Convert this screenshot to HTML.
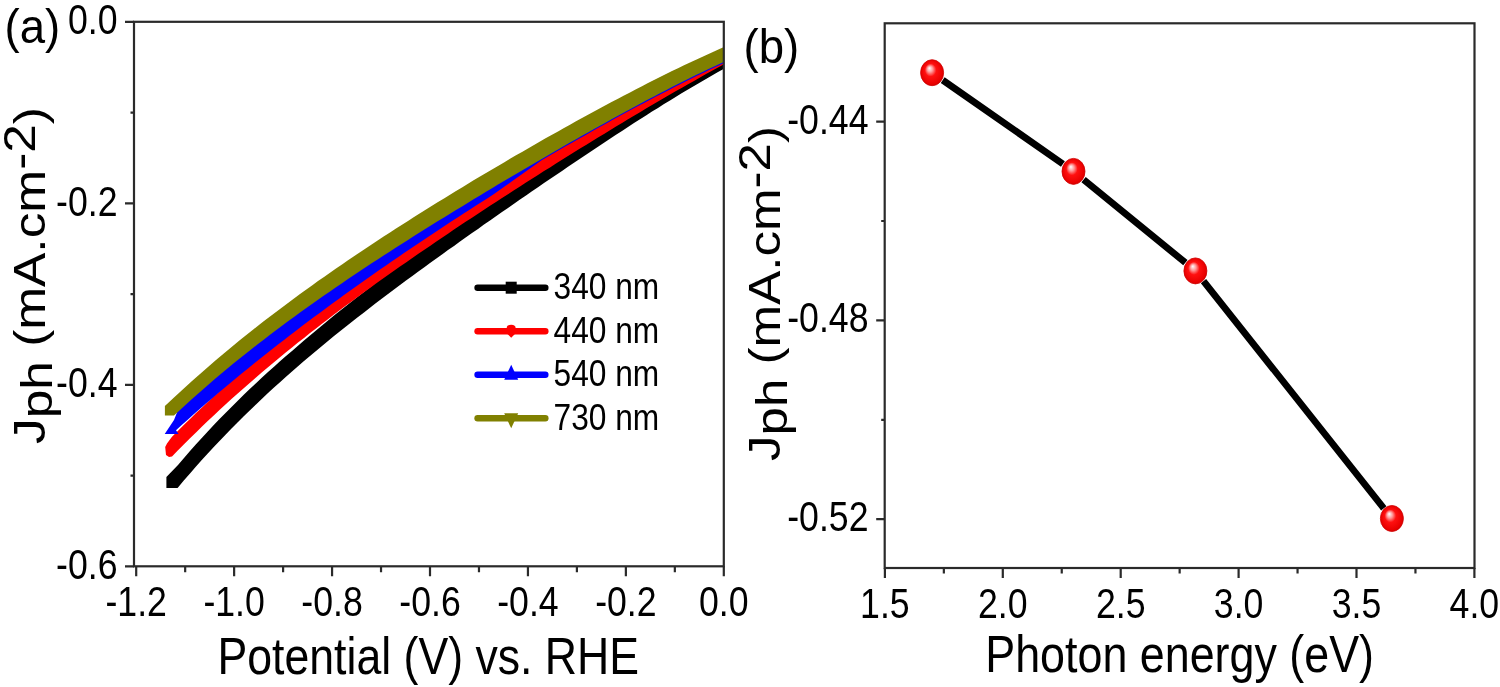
<!DOCTYPE html>
<html><head><meta charset="utf-8"><style>
html,body{margin:0;padding:0;background:#fff;}
svg{display:block;will-change:transform;}
text{font-family:"Liberation Sans", sans-serif;fill:#000;}
</style></head><body>
<svg width="1500" height="687" viewBox="0 0 1500 687">
<rect width="1500" height="687" fill="#fff"/>
<defs><clipPath id="clipL"><rect x="134" y="21.8" width="589.8" height="544.5"/></clipPath>
<radialGradient id="ball" cx="0.5" cy="0.5" r="0.55" fx="0.38" fy="0.32"><stop offset="0" stop-color="#ffffff"/><stop offset="0.22" stop-color="#ff9a9a"/><stop offset="0.45" stop-color="#ff1010"/><stop offset="0.85" stop-color="#e80000"/><stop offset="1" stop-color="#c00000"/></radialGradient></defs>
<g clip-path="url(#clipL)">
<path d="M166.4,477.0 L178.0,464.9 L184.0,457.9 L190.0,451.0 L196.0,444.3 L202.0,437.7 L208.0,431.2 L214.0,424.8 L220.0,418.6 L226.0,412.4 L232.0,406.4 L238.0,400.4 L244.0,394.6 L250.0,388.8 L256.0,383.2 L262.0,377.6 L268.0,372.1 L274.0,366.7 L280.0,361.3 L286.0,356.1 L292.0,350.9 L298.0,345.7 L304.0,340.6 L310.0,335.5 L316.0,330.4 L322.0,325.4 L328.0,320.5 L334.0,315.6 L340.0,310.8 L346.0,306.0 L352.0,301.2 L358.0,296.5 L364.0,291.9 L370.0,287.2 L376.0,282.6 L382.0,278.1 L388.0,273.6 L394.0,269.1 L400.0,264.6 L406.0,260.1 L412.0,255.7 L418.0,251.3 L424.0,246.9 L430.0,242.6 L436.0,238.2 L442.0,233.9 L448.0,229.6 L454.0,225.4 L460.0,221.1 L466.0,216.8 L472.0,212.6 L478.0,208.4 L484.0,204.1 L490.0,199.9 L496.0,195.8 L502.0,191.6 L508.0,187.4 L514.0,183.3 L520.0,179.1 L526.0,175.0 L532.0,170.8 L538.0,166.7 L544.0,162.6 L550.0,158.5 L556.0,154.4 L562.0,150.4 L568.0,146.3 L574.0,142.3 L580.0,138.2 L586.0,134.2 L592.0,130.2 L598.0,126.2 L604.0,122.2 L610.0,118.3 L616.0,114.3 L622.0,110.4 L628.0,106.5 L634.0,102.6 L640.0,98.8 L646.0,94.9 L652.0,91.1 L658.0,87.4 L664.0,83.6 L670.0,79.9 L676.0,76.2 L682.0,72.6 L688.0,69.0 L694.0,65.4 L700.0,61.9 L706.0,58.4 L712.0,55.3 L718.0,52.7 L724.0,50.0 L730.0,47.4 L730.0,65.4 L724.0,68.7 L718.0,72.1 L712.0,75.4 L706.0,78.9 L700.0,82.4 L694.0,85.9 L688.0,89.5 L682.0,93.1 L676.0,96.7 L670.0,100.4 L664.0,104.1 L658.0,107.9 L652.0,111.6 L646.0,115.4 L640.0,119.3 L634.0,123.1 L628.0,127.0 L622.0,130.9 L616.0,134.8 L610.0,138.8 L604.0,142.7 L598.0,146.7 L592.0,150.7 L586.0,154.7 L580.0,158.7 L574.0,162.8 L568.0,166.8 L562.0,170.9 L556.0,174.9 L550.0,179.0 L544.0,183.1 L538.0,187.2 L532.0,191.3 L526.0,195.5 L520.0,199.6 L514.0,203.8 L508.0,207.9 L502.0,212.1 L496.0,216.3 L490.0,220.4 L484.0,224.6 L478.0,228.9 L472.0,233.1 L466.0,237.3 L460.0,241.6 L454.0,245.9 L448.0,250.1 L442.0,254.4 L436.0,258.7 L430.0,263.1 L424.0,267.4 L418.0,271.8 L412.0,276.2 L406.0,280.6 L400.0,285.1 L394.0,289.6 L388.0,294.1 L382.0,298.6 L376.0,303.1 L370.0,307.7 L364.0,312.4 L358.0,317.0 L352.0,321.7 L346.0,326.5 L340.0,331.3 L334.0,336.1 L328.0,341.0 L322.0,345.9 L316.0,350.9 L310.0,356.0 L304.0,361.1 L298.0,366.3 L292.0,371.5 L286.0,376.8 L280.0,382.2 L274.0,387.6 L268.0,393.1 L262.0,398.7 L256.0,404.4 L250.0,410.2 L244.0,416.0 L238.0,422.0 L232.0,428.0 L226.0,434.2 L220.0,440.4 L214.0,446.8 L208.0,453.2 L202.0,459.8 L196.0,466.5 L190.0,473.4 L184.0,480.3 L178.0,487.4 L177.5,488.1 L166.4,488.1 Z" fill="#000000"/>
<path d="M165.2,447.0 L167.0,443.5 L172.0,436.8 L178.0,430.7 L184.0,424.8 L190.0,418.9 L196.0,413.1 L202.0,407.4 L208.0,401.8 L214.0,396.2 L220.0,390.7 L226.0,385.3 L232.0,380.0 L238.0,374.7 L244.0,369.5 L250.0,364.3 L256.0,359.2 L262.0,354.2 L268.0,349.2 L274.0,344.3 L280.0,339.4 L286.0,334.6 L292.0,329.8 L298.0,325.1 L304.0,320.4 L310.0,315.6 L316.0,311.0 L322.0,306.3 L328.0,301.7 L334.0,297.1 L340.0,292.6 L346.0,288.1 L352.0,283.7 L358.0,279.2 L364.0,274.8 L370.0,270.5 L376.0,266.1 L382.0,261.8 L388.0,257.6 L394.0,253.3 L400.0,249.1 L406.0,244.9 L412.0,240.7 L418.0,236.6 L424.0,232.5 L430.0,228.4 L436.0,224.3 L442.0,220.2 L448.0,216.2 L454.0,212.1 L460.0,208.1 L466.0,204.1 L472.0,200.2 L478.0,196.2 L484.0,192.3 L490.0,188.3 L496.0,184.4 L502.0,180.5 L508.0,176.7 L514.0,172.8 L520.0,168.9 L526.0,165.1 L532.0,161.3 L538.0,157.4 L544.0,153.6 L550.0,149.9 L556.0,146.1 L562.0,142.3 L568.0,138.6 L574.0,134.8 L580.0,131.1 L586.0,127.4 L592.0,123.7 L598.0,120.0 L604.0,116.4 L610.0,112.7 L616.0,109.1 L622.0,105.5 L628.0,101.8 L634.0,98.3 L640.0,94.7 L646.0,91.1 L652.0,87.6 L658.0,84.1 L664.0,80.6 L670.0,77.1 L676.0,73.6 L682.0,70.2 L688.0,66.8 L694.0,63.6 L700.0,60.8 L706.0,58.1 L712.0,55.3 L718.0,52.7 L724.0,50.0 L730.0,47.4 L730.0,61.0 L724.0,64.2 L718.0,67.5 L712.0,70.8 L706.0,74.1 L700.0,77.5 L694.0,80.9 L688.0,84.3 L682.0,87.7 L676.0,91.1 L670.0,94.6 L664.0,98.1 L658.0,101.6 L652.0,105.1 L646.0,108.6 L640.0,112.2 L634.0,115.8 L628.0,119.3 L622.0,123.0 L616.0,126.6 L610.0,130.2 L604.0,133.9 L598.0,137.5 L592.0,141.2 L586.0,144.9 L580.0,148.6 L574.0,152.3 L568.0,156.1 L562.0,159.8 L556.0,163.6 L550.0,167.4 L544.0,171.1 L538.0,174.9 L532.0,178.8 L526.0,182.6 L520.0,186.4 L514.0,190.3 L508.0,194.2 L502.0,198.0 L496.0,201.9 L490.0,205.8 L484.0,209.8 L478.0,213.7 L472.0,217.7 L466.0,221.6 L460.0,225.6 L454.0,229.6 L448.0,233.7 L442.0,237.7 L436.0,241.8 L430.0,245.9 L424.0,250.0 L418.0,254.1 L412.0,258.2 L406.0,262.4 L400.0,266.6 L394.0,270.8 L388.0,275.1 L382.0,279.3 L376.0,283.6 L370.0,288.0 L364.0,292.3 L358.0,296.7 L352.0,301.2 L346.0,305.6 L340.0,310.1 L334.0,314.6 L328.0,319.2 L322.0,323.8 L316.0,328.5 L310.0,333.1 L304.0,337.9 L298.0,342.6 L292.0,347.5 L286.0,352.3 L280.0,357.3 L274.0,362.2 L268.0,367.3 L262.0,372.3 L256.0,377.5 L250.0,382.7 L244.0,387.9 L238.0,393.2 L232.0,398.6 L226.0,404.1 L220.0,409.6 L214.0,415.2 L208.0,420.8 L202.0,426.5 L196.0,432.4 L190.0,438.2 L184.0,444.2 L178.0,450.3 L172.0,456.4 L169.0,457.0 L166.0,455.0 Z" fill="#ff0000"/>
<path d="M164.7,434.0 L174.0,420.0 L182.0,400.1 L188.0,394.6 L194.0,389.2 L200.0,383.9 L206.0,378.7 L212.0,373.5 L218.0,368.4 L224.0,363.4 L230.0,358.4 L236.0,353.5 L242.0,348.6 L248.0,343.8 L254.0,339.1 L260.0,334.4 L266.0,329.8 L272.0,325.3 L278.0,320.7 L284.0,316.3 L290.0,311.8 L296.0,307.5 L302.0,303.1 L308.0,298.8 L314.0,294.6 L320.0,290.4 L326.0,286.2 L332.0,282.0 L338.0,277.9 L344.0,273.8 L350.0,269.8 L356.0,265.7 L362.0,261.7 L368.0,257.8 L374.0,253.8 L380.0,249.9 L386.0,246.0 L392.0,242.1 L398.0,238.3 L404.0,234.5 L410.0,230.7 L416.0,226.9 L422.0,223.1 L428.0,219.3 L434.0,215.6 L440.0,211.9 L446.0,208.2 L452.0,204.5 L458.0,200.8 L464.0,197.1 L470.0,193.5 L476.0,189.9 L482.0,186.2 L488.0,182.6 L494.0,179.0 L500.0,175.4 L506.0,171.9 L512.0,168.3 L518.0,164.8 L524.0,161.2 L530.0,157.7 L536.0,154.2 L542.0,150.7 L548.0,147.2 L554.0,143.8 L560.0,140.3 L566.0,136.9 L572.0,133.5 L578.0,130.0 L584.0,126.7 L590.0,123.3 L596.0,119.9 L602.0,116.6 L608.0,113.2 L614.0,109.9 L620.0,106.6 L626.0,103.4 L632.0,100.1 L638.0,96.9 L644.0,93.7 L650.0,90.5 L656.0,87.4 L662.0,84.3 L668.0,81.2 L674.0,78.1 L680.0,75.1 L686.0,72.0 L692.0,69.1 L698.0,66.1 L704.0,63.2 L710.0,60.4 L716.0,57.5 L722.0,54.7 L728.0,52.0 L734.0,49.3 L734.0,58.0 L728.0,60.9 L722.0,63.9 L716.0,66.7 L710.0,69.6 L704.0,72.4 L698.0,75.3 L692.0,78.3 L686.0,81.2 L680.0,84.3 L674.0,87.3 L668.0,90.4 L662.0,93.5 L656.0,96.6 L650.0,99.7 L644.0,102.9 L638.0,106.1 L632.0,109.3 L626.0,112.6 L620.0,115.8 L614.0,119.1 L608.0,122.4 L602.0,125.8 L596.0,129.1 L590.0,132.5 L584.0,135.9 L578.0,139.2 L572.0,142.7 L566.0,146.1 L560.0,149.5 L554.0,153.0 L548.0,156.4 L542.0,160.1 L536.0,164.3 L530.0,168.5 L524.0,172.8 L518.0,177.0 L512.0,181.3 L506.0,185.6 L500.0,189.8 L494.0,194.1 L488.0,197.9 L482.0,201.7 L476.0,205.6 L470.0,209.4 L464.0,213.3 L458.0,217.2 L452.0,221.1 L446.0,225.0 L440.0,229.0 L434.0,233.0 L428.0,237.0 L422.0,241.0 L416.0,245.0 L410.0,249.1 L404.0,253.1 L398.0,257.2 L392.0,261.3 L386.0,265.5 L380.0,269.6 L374.0,273.8 L368.0,278.0 L362.0,282.3 L356.0,286.5 L350.0,290.8 L344.0,295.1 L338.0,299.5 L332.0,303.8 L326.0,308.2 L320.0,312.7 L314.0,317.1 L308.0,321.6 L302.0,326.1 L296.0,330.7 L290.0,335.3 L284.0,339.9 L278.0,344.5 L272.0,349.2 L266.0,354.0 L260.0,358.7 L254.0,363.5 L248.0,368.4 L242.0,373.3 L236.0,378.2 L230.0,383.2 L224.0,388.2 L218.0,393.3 L212.0,398.4 L206.0,403.6 L200.0,408.8 L194.0,414.1 L188.0,419.4 L182.0,424.8 L176.0,430.2 L178.6,434.0 Z" fill="#0000ff"/>
<path d="M164.9,405.9 L174.0,397.6 L180.0,392.0 L186.0,386.5 L192.0,381.1 L198.0,375.7 L204.0,370.4 L210.0,365.2 L216.0,360.1 L222.0,355.0 L228.0,350.0 L234.0,345.0 L240.0,340.1 L246.0,335.3 L252.0,330.5 L258.0,325.8 L264.0,321.1 L270.0,316.5 L276.0,311.9 L282.0,307.4 L288.0,302.9 L294.0,298.5 L300.0,294.1 L306.0,289.7 L312.0,285.4 L318.0,281.1 L324.0,276.9 L330.0,272.7 L336.0,268.5 L342.0,264.4 L348.0,260.3 L354.0,256.2 L360.0,252.2 L366.0,248.2 L372.0,244.2 L378.0,240.3 L384.0,236.3 L390.0,232.4 L396.0,228.6 L402.0,224.7 L408.0,220.9 L414.0,217.1 L420.0,213.3 L426.0,209.5 L432.0,205.8 L438.0,202.1 L444.0,198.4 L450.0,194.7 L456.0,191.0 L462.0,187.4 L468.0,183.8 L474.0,180.1 L480.0,176.6 L486.0,173.0 L492.0,169.4 L498.0,165.9 L504.0,162.4 L510.0,158.8 L516.0,155.3 L522.0,151.9 L528.0,148.4 L534.0,145.0 L540.0,141.5 L546.0,138.1 L552.0,134.7 L558.0,131.4 L564.0,128.0 L570.0,124.7 L576.0,121.3 L582.0,118.0 L588.0,114.8 L594.0,111.5 L600.0,108.3 L606.0,105.0 L612.0,101.8 L618.0,98.7 L624.0,95.5 L630.0,92.4 L636.0,89.3 L642.0,86.2 L648.0,83.1 L654.0,80.1 L660.0,77.1 L666.0,74.1 L672.0,71.1 L678.0,68.2 L684.0,65.3 L690.0,62.5 L696.0,59.7 L702.0,56.9 L708.0,54.2 L714.0,51.4 L720.0,48.8 L726.0,46.1 L732.0,43.6 L732.0,58.2 L726.0,60.9 L720.0,63.7 L714.0,66.5 L708.0,69.3 L702.0,72.2 L696.0,75.1 L690.0,78.1 L684.0,81.0 L678.0,84.1 L672.0,87.1 L666.0,90.2 L660.0,93.3 L654.0,96.4 L648.0,99.6 L642.0,102.8 L636.0,106.0 L630.0,109.2 L624.0,112.5 L618.0,115.7 L612.0,119.0 L606.0,122.4 L600.0,125.7 L594.0,129.0 L588.0,132.4 L582.0,135.8 L576.0,139.2 L570.0,142.6 L564.0,146.0 L558.0,149.5 L552.0,152.9 L546.0,156.4 L540.0,159.9 L534.0,163.4 L528.0,166.9 L522.0,170.4 L516.0,174.0 L510.0,177.5 L504.0,181.1 L498.0,184.6 L492.0,188.2 L486.0,191.8 L480.0,195.4 L474.0,199.1 L468.0,202.7 L462.0,206.4 L456.0,210.0 L450.0,213.7 L444.0,217.4 L438.0,221.1 L432.0,224.8 L426.0,228.6 L420.0,232.3 L414.0,236.1 L408.0,239.9 L402.0,243.7 L396.0,247.6 L390.0,251.4 L384.0,255.3 L378.0,259.2 L372.0,263.1 L366.0,267.1 L360.0,271.1 L354.0,275.1 L348.0,279.1 L342.0,283.2 L336.0,287.3 L330.0,291.4 L324.0,295.6 L318.0,299.8 L312.0,304.0 L306.0,308.3 L300.0,312.6 L294.0,316.9 L288.0,321.3 L282.0,325.8 L276.0,330.2 L270.0,334.8 L264.0,339.4 L258.0,344.0 L252.0,348.7 L246.0,353.4 L240.0,358.2 L234.0,363.1 L228.0,368.0 L222.0,373.0 L216.0,378.1 L210.0,383.2 L204.0,388.4 L198.0,393.7 L192.0,399.0 L186.0,404.5 L180.0,410.0 L174.0,415.5 L164.9,415.4 Z" fill="#808000"/>
</g>
<rect x="134.0" y="21.8" width="589.80" height="544.50" fill="none" stroke="#2a2a2a" stroke-width="2.2"/>
<path d="M136.20,566.3 v10 M185.17,566.3 v6 M234.13,566.3 v10 M283.10,566.3 v6 M332.07,566.3 v10 M381.03,566.3 v6 M430.00,566.3 v10 M478.97,566.3 v6 M527.94,566.3 v10 M576.90,566.3 v6 M625.87,566.3 v10 M674.84,566.3 v6 M723.80,566.3 v10 M134.0,21.80 h-9 M134.0,112.55 h-3.5 M134.0,203.30 h-9 M134.0,294.05 h-3.5 M134.0,384.80 h-9 M134.0,475.55 h-3.5 M134.0,566.30 h-9" stroke="#2a2a2a" stroke-width="2.2" fill="none"/>
<text x="136.20" y="616.20" font-size="42.5" textLength="61.46" lengthAdjust="spacingAndGlyphs" text-anchor="middle">-1.2</text>
<text x="234.13" y="616.20" font-size="42.5" textLength="61.46" lengthAdjust="spacingAndGlyphs" text-anchor="middle">-1.0</text>
<text x="332.07" y="616.20" font-size="42.5" textLength="61.46" lengthAdjust="spacingAndGlyphs" text-anchor="middle">-0.8</text>
<text x="430.00" y="616.20" font-size="42.5" textLength="61.46" lengthAdjust="spacingAndGlyphs" text-anchor="middle">-0.6</text>
<text x="527.94" y="616.20" font-size="42.5" textLength="61.46" lengthAdjust="spacingAndGlyphs" text-anchor="middle">-0.4</text>
<text x="625.87" y="616.20" font-size="42.5" textLength="61.46" lengthAdjust="spacingAndGlyphs" text-anchor="middle">-0.2</text>
<text x="723.80" y="616.20" font-size="42.5" textLength="49.59" lengthAdjust="spacingAndGlyphs" text-anchor="middle">0.0</text>
<text x="117.50" y="34.30" font-size="42.5" textLength="49.59" lengthAdjust="spacingAndGlyphs" text-anchor="end">0.0</text>
<text x="117.50" y="215.80" font-size="42.5" textLength="61.46" lengthAdjust="spacingAndGlyphs" text-anchor="end">-0.2</text>
<text x="117.50" y="397.30" font-size="42.5" textLength="61.46" lengthAdjust="spacingAndGlyphs" text-anchor="end">-0.4</text>
<text x="117.50" y="578.80" font-size="42.5" textLength="61.46" lengthAdjust="spacingAndGlyphs" text-anchor="end">-0.6</text>
<text x="217.50" y="673.70" font-size="52" textLength="421.50" lengthAdjust="spacingAndGlyphs" text-anchor="start">Potential (V) vs. RHE</text>
<text x="4.50" y="43.00" font-size="49" textLength="55.70" lengthAdjust="spacingAndGlyphs" text-anchor="start">(a)</text>
<text transform="translate(44.7,444) rotate(-90)" font-size="44" x="0" y="0" textLength="337" lengthAdjust="spacingAndGlyphs">J<tspan dy="7">ph</tspan><tspan dy="-7"> (mA.cm</tspan><tspan dy="-10">-2</tspan><tspan dy="10">)</tspan></text>
<line x1="477.6" y1="287.70" x2="545.3" y2="287.70" stroke="#000000" stroke-width="6.5" stroke-linecap="round"/>
<rect x="505.7" y="281.7" width="11" height="12" fill="#000000"/>
<text x="553.50" y="299.20" font-size="36.6" textLength="105.72" lengthAdjust="spacingAndGlyphs" text-anchor="start">340 nm</text>
<line x1="477.6" y1="331.25" x2="545.3" y2="331.25" stroke="#ff0000" stroke-width="6.5" stroke-linecap="round"/>
<path d="M506.7,328.25 Q506.7,324.75 511.2,324.75 Q515.7,324.75 515.7,328.25 L515.7,333.25 L511.2,337.75 L506.7,333.25 Z" fill="#ff0000"/>
<text x="553.50" y="342.75" font-size="36.6" textLength="105.72" lengthAdjust="spacingAndGlyphs" text-anchor="start">440 nm</text>
<line x1="477.6" y1="374.80" x2="545.3" y2="374.80" stroke="#0000ff" stroke-width="6.5" stroke-linecap="round"/>
<path d="M511.2,364.79999999999995 L518.2,379.79999999999995 L504.2,379.79999999999995 Z" fill="#0000ff"/>
<text x="553.50" y="386.30" font-size="36.6" textLength="105.72" lengthAdjust="spacingAndGlyphs" text-anchor="start">540 nm</text>
<line x1="477.6" y1="418.35" x2="545.3" y2="418.35" stroke="#808000" stroke-width="6.5" stroke-linecap="round"/>
<path d="M511.2,428.34999999999997 L518.2,413.34999999999997 L504.2,413.34999999999997 Z" fill="#808000"/>
<text x="553.50" y="429.85" font-size="36.6" textLength="105.72" lengthAdjust="spacingAndGlyphs" text-anchor="start">730 nm</text>
<path d="M942.7,80.1 L1062.9,164.0 M1083.6,179.6 L1185.4,262.7 M1203.5,281.1 L1383.8,508.3" stroke="#000" stroke-width="6.8" fill="none"/>
<ellipse cx="932.1" cy="72.7" rx="11.5" ry="13" fill="url(#ball)" stroke="#d00000" stroke-width="0.8"/>
<ellipse cx="1073.5" cy="171.4" rx="11.5" ry="13" fill="url(#ball)" stroke="#d00000" stroke-width="0.8"/>
<ellipse cx="1195.4" cy="270.9" rx="11.5" ry="13" fill="url(#ball)" stroke="#d00000" stroke-width="0.8"/>
<ellipse cx="1391.9" cy="518.5" rx="11.5" ry="13" fill="url(#ball)" stroke="#d00000" stroke-width="0.8"/>
<rect x="884.7" y="23.3" width="589.80" height="544.70" fill="none" stroke="#2a2a2a" stroke-width="2.2"/>
<path d="M884.90,568.0 v10 M943.85,568.0 v5.5 M1002.80,568.0 v10 M1061.75,568.0 v5.5 M1120.70,568.0 v10 M1179.65,568.0 v5.5 M1238.60,568.0 v10 M1297.55,568.0 v5.5 M1356.50,568.0 v10 M1415.45,568.0 v5.5 M1474.40,568.0 v10 M884.7,121.60 h-8.5 M884.7,320.40 h-8.5 M884.7,519.20 h-8.5 M884.7,221.00 h-3.5 M884.7,419.80 h-3.5" stroke="#2a2a2a" stroke-width="2.2" fill="none"/>
<text x="884.90" y="618.00" font-size="42.5" textLength="49.59" lengthAdjust="spacingAndGlyphs" text-anchor="middle">1.5</text>
<text x="1002.80" y="618.00" font-size="42.5" textLength="49.59" lengthAdjust="spacingAndGlyphs" text-anchor="middle">2.0</text>
<text x="1120.70" y="618.00" font-size="42.5" textLength="49.59" lengthAdjust="spacingAndGlyphs" text-anchor="middle">2.5</text>
<text x="1238.60" y="618.00" font-size="42.5" textLength="49.59" lengthAdjust="spacingAndGlyphs" text-anchor="middle">3.0</text>
<text x="1356.50" y="618.00" font-size="42.5" textLength="49.59" lengthAdjust="spacingAndGlyphs" text-anchor="middle">3.5</text>
<text x="1474.40" y="618.00" font-size="42.5" textLength="49.59" lengthAdjust="spacingAndGlyphs" text-anchor="middle">4.0</text>
<text x="868.50" y="133.60" font-size="42.5" textLength="81.30" lengthAdjust="spacingAndGlyphs" text-anchor="end">-0.44</text>
<text x="868.50" y="332.40" font-size="42.5" textLength="81.30" lengthAdjust="spacingAndGlyphs" text-anchor="end">-0.48</text>
<text x="868.50" y="531.20" font-size="42.5" textLength="81.30" lengthAdjust="spacingAndGlyphs" text-anchor="end">-0.52</text>
<text x="985.30" y="671.70" font-size="52" textLength="388.71" lengthAdjust="spacingAndGlyphs" text-anchor="start">Photon energy (eV)</text>
<text x="743.50" y="63.00" font-size="49" textLength="55.70" lengthAdjust="spacingAndGlyphs" text-anchor="start">(b)</text>
<text transform="translate(779.5,461) rotate(-90)" font-size="44" x="0" y="0" textLength="335" lengthAdjust="spacingAndGlyphs">J<tspan dy="7">ph</tspan><tspan dy="-7"> (mA.cm</tspan><tspan dy="-10">-2</tspan><tspan dy="10">)</tspan></text>
</svg></body></html>
